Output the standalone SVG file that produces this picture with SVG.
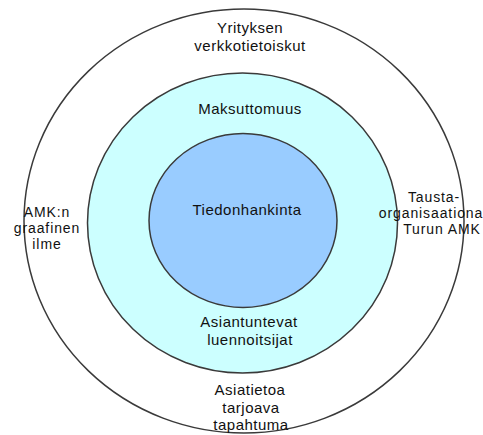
<svg xmlns="http://www.w3.org/2000/svg" width="483" height="435" viewBox="0 0 483 435">
<style>
.ring{stroke:#3a3a3a;stroke-width:1.5}
text{font-family:"Liberation Sans",Arial,sans-serif;font-size:15px;letter-spacing:0.5px;fill:#111;text-anchor:middle}
.side{font-size:14px;letter-spacing:0.9px}
</style>
<rect width="483" height="435" fill="#ffffff"/>
<g id="outer">
<ellipse class="ring" cx="244" cy="221" rx="220" ry="212" fill="#ffffff"/>
</g>
<g id="middle">
<ellipse class="ring" cx="242.5" cy="223" rx="155" ry="150" fill="#ccffff"/>
</g>
<g id="inner">
<ellipse class="ring" cx="243" cy="220.5" rx="94" ry="87" fill="#99ccff"/>
</g>
<g id="outer-labels">
<text x="250" y="33">Yrityksen</text>
<text x="250" y="51">verkkotietoiskut</text>
<text x="250" y="395">Asiatietoa</text>
<text x="251" y="413">tarjoava</text>
<text x="251" y="430">tapahtuma</text>
<text class="side" x="47" y="217">AMK:n</text>
<text class="side" x="47" y="233">graafinen</text>
<text class="side" x="47" y="249">ilme</text>
<text class="side" x="434" y="202">Tausta-</text>
<text class="side" x="431" y="218">organisaationa</text>
<text class="side" x="442" y="234">Turun AMK</text>
</g>
<g id="middle-labels">
<text x="250" y="114">Maksuttomuus</text>
<text x="249" y="327">Asiantuntevat</text>
<text x="250" y="345">luennoitsijat</text>
</g>
<g id="inner-labels">
<text x="247" y="215">Tiedonhankinta</text>
</g>
<g id="connectors"></g>
</svg>
